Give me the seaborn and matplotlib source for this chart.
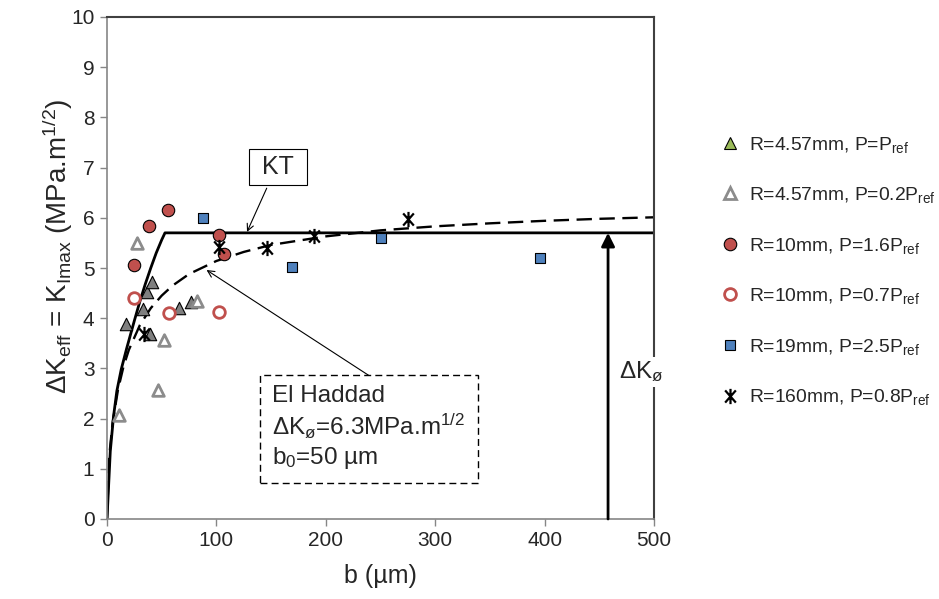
import matplotlib
matplotlib.use("Agg")
import matplotlib.pyplot as plt
from matplotlib.lines import Line2D
from matplotlib.path import Path
import seaborn as sns

# measured points, b in um and dK_eff in MPa.m^1/2
tri_full_b = [17, 33, 37, 41, 39, 66, 77]
tri_full_k = [3.88, 4.18, 4.52, 4.73, 3.69, 4.20, 4.32]
tri_open_b = [11, 27, 47, 52, 82]
tri_open_k = [2.07, 5.49, 2.57, 3.57, 4.35]
circ_full_b = [25, 38, 56, 102, 107]
circ_full_k = [5.06, 5.84, 6.16, 5.66, 5.27]
circ_open_b = [25, 57, 102]
circ_open_k = [4.40, 4.10, 4.12]
sq_b = [88, 169, 250, 396]
sq_k = [6.00, 5.01, 5.60, 5.20]
star_b = [34, 102, 146, 189, 275]
star_k = [3.68, 5.42, 5.39, 5.64, 5.97]

# Kitagawa-Takahashi line
kt_b = [0, 3, 6, 9, 13, 18, 25, 30, 35, 40, 45, 50, 53, 500]
kt_k = [0, 1.35, 2.05, 2.55, 2.98, 3.40, 3.95, 4.33, 4.68, 5.00, 5.30, 5.56, 5.70, 5.70]

# El Haddad curve
eh_b = [0, 2, 5, 10, 15, 20, 30, 40, 50, 60, 75, 100, 125, 150, 200, 250, 300, 350, 400, 450, 500]
eh_k = [0, 1.24, 1.90, 2.57, 3.03, 3.37, 3.86, 4.20, 4.45, 4.65, 4.88, 5.14, 5.32, 5.46,
        5.63, 5.75, 5.83, 5.89, 5.94, 5.98, 6.01]

dk0_b = 458
dk0_k = 5.7

labels = [
    "R=4.57mm, P=P$_{\\mathrm{ref}}$",
    "R=4.57mm, P=0.2P$_{\\mathrm{ref}}$",
    "R=10mm, P=1.6P$_{\\mathrm{ref}}$",
    "R=10mm, P=0.7P$_{\\mathrm{ref}}$",
    "R=19mm, P=2.5P$_{\\mathrm{ref}}$",
    "R=160mm, P=0.8P$_{\\mathrm{ref}}$",
]

sns.set_theme(style="white")
plt.rcParams["font.family"] = ["Liberation Sans", "DejaVu Sans"]
plt.rcParams["mathtext.fontset"] = "custom"
plt.rcParams["mathtext.rm"] = "Liberation Sans"
plt.rcParams["mathtext.it"] = "Liberation Sans:italic"
plt.rcParams["mathtext.bf"] = "Liberation Sans:bold"

gray = "#7f7f7f"
gray_open = "#8c8c8c"
red = "#c0504d"
blue = "#4f81bd"
green = "#9bbb59"

# excel-like star: an X with a vertical bar
star = Path([(0, -1), (0, 1), (-0.7, -0.8), (0.7, 0.8), (-0.7, 0.8), (0.7, -0.8)],
            [Path.MOVETO, Path.LINETO] * 3)

fig = plt.figure(figsize=(9.39, 5.99), dpi=100)
ax = fig.add_axes([107 / 939, 1 - 519 / 599, (654 - 107) / 939, (519 - 17) / 599])

sns.lineplot(x=kt_b, y=kt_k, ax=ax, color="black", lw=2, estimator=None, sort=False, zorder=2)
sns.lineplot(x=eh_b, y=eh_k, ax=ax, color="black", lw=1.7, estimator=None, sort=False,
             linestyle=(0, (6.5, 3.2)), zorder=2)

sns.scatterplot(x=tri_full_b, y=tri_full_k, ax=ax, marker="^", s=80, color=gray,
                edgecolor="black", linewidth=0.8, zorder=3, legend=False)
sns.scatterplot(x=tri_open_b, y=tri_open_k, ax=ax, marker="^", s=70, color="white",
                edgecolor=gray_open, linewidth=2, zorder=3, legend=False)
sns.scatterplot(x=circ_full_b, y=circ_full_k, ax=ax, marker="o", s=80, color=red,
                edgecolor="black", linewidth=0.8, zorder=3, legend=False)
sns.scatterplot(x=circ_open_b, y=circ_open_k, ax=ax, marker="o", s=70, color="white",
                edgecolor=red, linewidth=2, zorder=3, legend=False)
sns.scatterplot(x=sq_b, y=sq_k, ax=ax, marker="s", s=60, color=blue,
                edgecolor="black", linewidth=0.8, zorder=3, legend=False)
sns.scatterplot(x=star_b, y=star_k, ax=ax, marker=star, s=120, color="black",
                edgecolor="black", linewidth=1.6, zorder=3, legend=False)

# vertical arrow for the threshold
ax.annotate("", xy=(dk0_b, dk0_k), xytext=(dk0_b, 0),
            arrowprops=dict(arrowstyle="-|>", lw=2, color="black", mutation_scale=20,
                            shrinkA=0, shrinkB=0))
ax.text(488, 2.93, "ΔK$_{\\mathrm{ø}}$", fontsize=17.5, ha="center", va="center", zorder=6,
        bbox=dict(boxstyle="square,pad=0.1", fc="white", ec="none"))

# KT label
ax.annotate("", xy=(128, 5.72), xytext=(146, 6.59),
            arrowprops=dict(arrowstyle="->", lw=0.8, color="black", shrinkA=0, shrinkB=0))
ax.text(156, 7.01, " KT ", fontsize=18, ha="center", va="center", zorder=6,
        bbox=dict(boxstyle="square,pad=0.25", fc="white", ec="black", lw=0.8))

# El Haddad label
ax.annotate("", xy=(91, 4.96), xytext=(240, 2.85),
            arrowprops=dict(arrowstyle="->", lw=0.8, color="black", shrinkA=0, shrinkB=0))
ax.text(151, 1.81, "El Haddad\nΔK$_{\\mathrm{ø}}$=6.3MPa.m$^{\\mathrm{1/2}}$\nb$_{\\mathrm{0}}$=50 µm",
        fontsize=17.5, ha="left", va="center", linespacing=1.2, zorder=6,
        bbox=dict(boxstyle="square,pad=0.5", fc="white", ec="black", lw=1, ls=(0, (5, 3))))

ax.set_xlim(0, 500)
ax.set_ylim(0, 10)
ax.set_xticks(range(0, 501, 100))
ax.set_yticks(range(0, 11))
ax.tick_params(direction="out", length=5, width=1, color="#868686", labelsize=15, pad=4,
               bottom=True, left=True)
for side in ["left", "bottom"]:
    ax.spines[side].set_color("#868686")
    ax.spines[side].set_linewidth(1.2)
for side in ["top", "right"]:
    ax.spines[side].set_color("#404040")
    ax.spines[side].set_linewidth(1.5)

ax.set_xlabel("b (µm)", fontsize=18, labelpad=10)
ax.set_ylabel("ΔK$_{\\mathrm{eff}}$ = K$_{\\mathrm{Imax}}$ (MPa.m$^{\\mathrm{1/2}}$)", fontsize=20)
ax.yaxis.set_label_coords(-0.058, 0.544)

handles = [
    Line2D([], [], ls="none", marker="^", ms=9, mfc=green, mec="black", mew=0.8),
    Line2D([], [], ls="none", marker="^", ms=8.5, mfc="white", mec=gray_open, mew=2),
    Line2D([], [], ls="none", marker="o", ms=9, mfc=red, mec="black", mew=0.8),
    Line2D([], [], ls="none", marker="o", ms=8.5, mfc="white", mec=red, mew=2),
    Line2D([], [], ls="none", marker="s", ms=7.8, mfc=blue, mec="black", mew=0.8),
    Line2D([], [], ls="none", marker=star, ms=11, mfc="black", mec="black", mew=1.6),
]
fig.legend(handles, labels, loc="center left", bbox_to_anchor=(720 / 939, 1 - 271 / 599),
           frameon=False, fontsize=13.9, handlelength=1.0, handletextpad=0.5,
           labelspacing=1.58, borderpad=0, borderaxespad=0)

fig.savefig("out.png", dpi=100)
